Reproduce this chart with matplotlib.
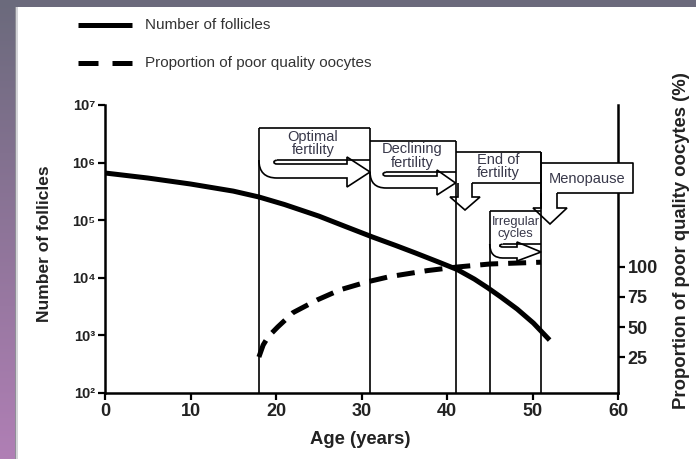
import numpy as np
import matplotlib
matplotlib.use('Agg')
import matplotlib.pyplot as plt
from matplotlib.patches import Rectangle, PathPatch
from matplotlib.path import Path

plt.rcParams['font.family'] = ['Liberation Sans', 'DejaVu Sans']

# ---------------- data ----------------
follicle_age = [0, 5, 10, 15, 18, 21, 25, 28, 31.3, 34, 36.3, 39, 41.2, 43.2, 44.8, 46.3,
                48.2, 50.1, 52]
follicle_count = [6.6e5, 5.4e5, 4.25e5, 3.2e5, 2.53e5, 1.87e5, 1.18e5, 7.9e4, 5.1e4, 3.64e4,
                  2.7e4, 1.88e4, 1.39e4, 9.5e3, 6.65e3, 4.64e3, 2.87e3, 1.64e3, 8.3e2]
oocyte_age = [18, 18.5, 19.1, 20.2, 22, 24.8, 27.5, 30.6, 33.3, 37.7, 41.2, 45, 51]
poor_quality_pct = [25, 35, 42, 50, 62, 72.5, 81, 87.5, 92, 97, 100, 102.5, 104]
phase_bounds = [18, 31, 41, 45, 51]
x_ticks = [0, 10, 20, 30, 40, 50, 60]
y_left_ticks = [1e2, 1e3, 1e4, 1e5, 1e6, 1e7]
y_left_labels = ['10²', '10³', '10⁴', '10⁵', '10⁶', '10⁷']
y_right_ticks = [25, 50, 75, 100]
legend_labels = ['Number of follicles', 'Proportion of poor quality oocytes']
phase_labels = ['Optimal\nfertility', 'Declining\nfertility', 'End of\nfertility',
                'Menopause', 'Irregular\ncycles']

W, H = 696, 459
fig = plt.figure(figsize=(W / 100, H / 100), dpi=100)
fig.patch.set_facecolor('white')

L, R, T, B = 105, 618, 105, 393
ax = fig.add_axes([L / W, 1 - B / H, (R - L) / W, (B - T) / H])
ax.set_xlim(0, 60)
ax.set_yscale('log')
ax.set_ylim(1e2, 1e7)
ax.set_xticks(x_ticks)
ax.set_xticklabels([str(v) for v in x_ticks], fontsize=13, fontweight='bold', color='#222222')
ax.set_yticks(y_left_ticks)
ax.set_yticklabels(y_left_labels, fontsize=10.5, fontweight='bold', color='#222222')
ax.yaxis.set_minor_locator(matplotlib.ticker.NullLocator())
ax.tick_params(axis='both', direction='out', length=5, width=1.6, pad=2)
for s in ['top', 'right']:
    ax.spines[s].set_visible(False)
for s in ['left', 'bottom']:
    ax.spines[s].set_linewidth(1.8)

ax.plot(follicle_age, follicle_count, color='black', lw=3.6, solid_capstyle='butt',
        solid_joinstyle='round', zorder=3)

ax2 = ax.twinx()
ax2.set_ylim(-5, 235)
ax2.set_yticks(y_right_ticks)
ax2.set_yticklabels([str(v) for v in y_right_ticks], fontsize=13, fontweight='bold', color='#222222')
ax2.tick_params(axis='y', direction='out', length=5, width=1.6, pad=2)
for s in ['top', 'left', 'bottom']:
    ax2.spines[s].set_visible(False)
ax2.spines['right'].set_linewidth(1.8)
ax2.plot(oocyte_age, poor_quality_pct, color='black', lw=3.6, linestyle=(0, (3.6, 2.0)),
         dash_capstyle='butt', dash_joinstyle='round', zorder=3)

# axis titles
fig.text(45 / W, 1 - 244 / H, 'Number of follicles', rotation=90, ha='center', va='center',
         fontsize=12.5, fontweight='bold', color='#222222')
fig.text(681 / W, 1 - 241 / H, 'Proportion of poor quality oocytes (%)', rotation=90,
         ha='center', va='center', fontsize=13.3, fontweight='bold', color='#222222')
fig.text(360 / W, 1 - 440 / H, 'Age (years)', ha='center', va='center',
         fontsize=13.3, fontweight='bold', color='#222222')

# ---------------- overlay in pixel coordinates ----------------
ov = fig.add_axes([0, 0, 1, 1], zorder=10)
ov.patch.set_alpha(0)
ov.axis('off')

# background strips
top_c = np.array([107, 106, 124]) / 255
bot_c = np.array([176, 127, 181]) / 255
t = np.linspace(0, 1, 200)[:, None]
grad = (top_c[None, :] * (1 - t) + bot_c[None, :] * t)[:, None, :]
ov.imshow(grad, extent=[0, 15, H, 0], aspect='auto', interpolation='bilinear')
ov.add_patch(Rectangle((0, 0), W, 7, facecolor='#6b6a7c', edgecolor='none'))
ov.add_patch(Rectangle((15, 7), 1.2, H - 7, facecolor='#8e8e96', edgecolor='none'))
ov.add_patch(Rectangle((16.2, 7), 1.5, H - 7, facecolor='#d4d4d8', edgecolor='none'))
ov.set_xlim(0, W)
ov.set_ylim(H, 0)


def X(age):
    return L + age * (R - L) / 60.0


LW = 1.2
TXT = '#38384a'


def line(xs, ys):
    ov.plot(xs, ys, color='black', lw=LW, solid_capstyle='butt')


def hook_arrow(x0, box_bot, body_top, body_bot, hx, head_top, head_bot, tipx, tipy, off):
    verts = [(x0, box_bot), (x0, body_bot), (x0 + off, body_bot),
             (hx, body_bot), (hx, head_bot), (tipx, tipy), (hx, head_top), (hx, body_top),
             (x0 + off, body_top), (x0 + off - 4, body_top), (x0 + off - 4, box_bot + 0.3),
             (x0 + off, box_bot + 0.3)]
    codes = [Path.MOVETO, Path.CURVE3, Path.CURVE3,
             Path.LINETO, Path.LINETO, Path.LINETO, Path.LINETO, Path.LINETO,
             Path.LINETO, Path.CURVE4, Path.CURVE4, Path.CURVE4]
    ov.add_patch(PathPatch(Path(verts, codes), facecolor='white', edgecolor='black',
                           lw=LW, joinstyle='miter'))


def down_arrow(bx0, bx1, y0, y1, hx0, hx1, tipx, tipy):
    verts = [(bx0, y0), (bx0, y1), (hx0, y1), (tipx, tipy), (hx1, y1), (bx1, y1), (bx1, y0)]
    codes = [Path.MOVETO] + [Path.LINETO] * 6
    ov.add_patch(PathPatch(Path(verts, codes), facecolor='white', edgecolor='black',
                           lw=LW, joinstyle='miter'))


x18, x31, x41, x45, x51 = [X(a) for a in phase_bounds]
box_tops = [128, 128, 141, 211, 152]

# vertical phase lines
for xb, top in zip([x18, x31, x41, x45, x51], box_tops):
    line([xb, xb], [B, top])

# Optimal fertility
line([x18, x31], [128, 128])
hook_arrow(x18, 160, 164, 178, 347, 157, 187, x31, 172, 18)
line([x18 + 18, x31], [160, 160])
ov.text(313, 143.5, phase_labels[0], ha='center', va='center', fontsize=10.5,
        color=TXT, linespacing=0.95)

# Declining fertility
line([x31, x41], [141, 141])
hook_arrow(x31, 172, 176, 188, 437, 170, 195, x41, 183, 16)
line([x31 + 16, x41], [172, 172])
ov.text(412, 156, phase_labels[1], ha='center', va='center', fontsize=10.5,
        color=TXT, linespacing=0.95)

# End of fertility
line([x41, x51], [152, 152])
line([472, x51], [183, 183])
down_arrow(458, 472, 183, 197, 450, 480, 465, 210)
ov.text(498, 166.5, phase_labels[2], ha='center', va='center', fontsize=10.5,
        color=TXT, linespacing=0.95)

# Menopause
ov.add_patch(Rectangle((x51, 163), 633 - x51, 30, facecolor='white', edgecolor='none'))
line([x51, 633, 633, 557], [163, 163, 193, 193])
line([x51, x51], [152, 200])
down_arrow(x51, 557, 193, 208, 533, 567, 550, 224)
ov.text(587, 179, phase_labels[3], ha='center', va='center', fontsize=10.5, color=TXT)

# Irregular cycles
line([x45, x51], [211, 211])
hook_arrow(x45, 244, 247, 258, 517, 242, 261, x51, 252, 13)
line([x45 + 13, x51], [244, 244])
ov.text(515.5, 228, phase_labels[4], ha='center', va='center', fontsize=9.3,
        color=TXT, linespacing=0.95)

# legend
ov.plot([78, 132], [25, 25], color='black', lw=3.6, solid_capstyle='butt')
ov.plot([78, 98], [63, 63], color='black', lw=3.6, solid_capstyle='butt')
ov.plot([112, 132], [63, 63], color='black', lw=3.6, solid_capstyle='butt')
ov.text(145, 25, legend_labels[0], ha='left', va='center', fontsize=11, color='#333333')
ov.text(145, 63, legend_labels[1], ha='left', va='center', fontsize=11, color='#333333')

fig.savefig('out.png', dpi=100)
